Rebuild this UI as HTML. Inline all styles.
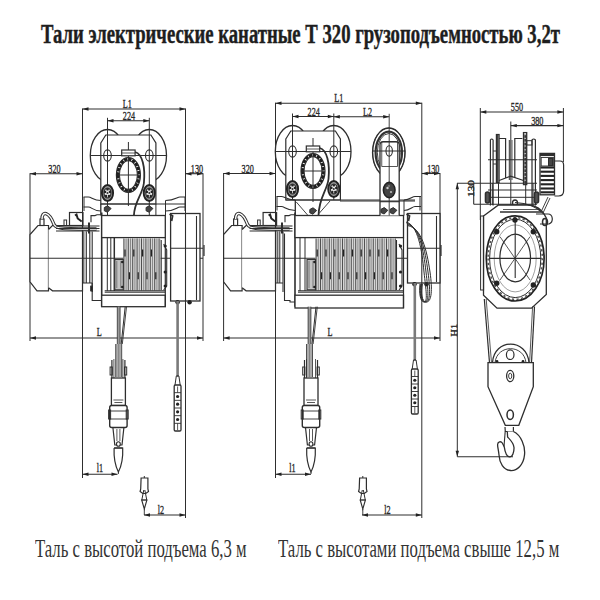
<!DOCTYPE html>
<html><head><meta charset="utf-8"><style>
html,body{margin:0;padding:0;background:#fff;width:600px;height:600px;overflow:hidden}
svg{position:absolute;left:0;top:0}
text{font-family:"Liberation Serif",serif}
.t{position:absolute;font-family:"Liberation Serif",serif;white-space:nowrap;color:#1e1e1e;transform-origin:0 0;line-height:1}
</style></head><body>
<div class="t" style="left:40.5px;top:21px;font-size:27px;font-weight:bold;-webkit-text-stroke:0.45px #1e1e1e;transform:scaleX(0.6926)">Тали электрические канатные Т 320 грузоподъемностью 3,2т</div>
<div class="t" style="left:34.5px;top:536.1px;font-size:26px;color:#333;transform:scaleX(0.6434)">Таль с высотой подъема 6,3 м</div>
<div class="t" style="left:277.5px;top:536.1px;font-size:26px;color:#333;transform:scaleX(0.6438)">Таль с высотами подъема свыше 12,5 м</div>
<svg width="600" height="600" viewBox="0 0 600 600" stroke="#2e2e2e" fill="none">
<line x1="30" y1="173.2" x2="30" y2="341" stroke-width="1"/>
<line x1="203" y1="173.2" x2="203" y2="341" stroke-width="1"/>
<line x1="82.5" y1="108.5" x2="82.5" y2="478" stroke-width="1"/>
<line x1="185.5" y1="108.5" x2="185.5" y2="518" stroke-width="1"/>
<line x1="82.5" y1="109" x2="185.5" y2="109" stroke-width="1.1"/>
<polygon points="82.5,109 88.5,107.3 88.5,110.7" stroke="none" fill="#222"/>
<polygon points="185.5,109 179.5,107.3 179.5,110.7" stroke="none" fill="#222"/>
<text transform="translate(127.2,108.2) scale(0.64,1)" font-size="12.8" text-anchor="middle" stroke="#2a2a2a" stroke-width="0.35" fill="#2a2a2a">L1</text>
<line x1="107.5" y1="120.8" x2="149.3" y2="120.8" stroke-width="1.1"/>
<polygon points="107.5,120.8 113.5,119.1 113.5,122.5" stroke="none" fill="#222"/>
<polygon points="149.3,120.8 143.3,119.1 143.3,122.5" stroke="none" fill="#222"/>
<text transform="translate(129,120) scale(0.64,1)" font-size="12.8" text-anchor="middle" stroke="#2a2a2a" stroke-width="0.35" fill="#2a2a2a">224</text>
<line x1="30" y1="173.7" x2="82.5" y2="173.7" stroke-width="1.1"/>
<polygon points="30,173.7 36,172 36,175.4" stroke="none" fill="#222"/>
<polygon points="82.5,173.7 76.5,172 76.5,175.4" stroke="none" fill="#222"/>
<text transform="translate(54.5,172.9) scale(0.64,1)" font-size="12.8" text-anchor="middle" stroke="#2a2a2a" stroke-width="0.35" fill="#2a2a2a">320</text>
<line x1="185.5" y1="173.7" x2="203" y2="173.7" stroke-width="1.1"/>
<polygon points="185.5,173.7 191.5,172 191.5,175.4" stroke="none" fill="#222"/>
<polygon points="203,173.7 197,172 197,175.4" stroke="none" fill="#222"/>
<text transform="translate(197,172.9) scale(0.64,1)" font-size="12.8" text-anchor="middle" stroke="#2a2a2a" stroke-width="0.35" fill="#2a2a2a">130</text>
<line x1="30" y1="338" x2="203" y2="338" stroke-width="1.1"/>
<polygon points="30,338 36,336.3 36,339.7" stroke="none" fill="#222"/>
<polygon points="203,338 197,336.3 197,339.7" stroke="none" fill="#222"/>
<text transform="translate(99.3,335.6) scale(0.64,1)" font-size="12.8" text-anchor="middle" stroke="#2a2a2a" stroke-width="0.35" fill="#2a2a2a">L</text>
<line x1="82.5" y1="474.2" x2="117.5" y2="474.2" stroke-width="1.1"/>
<polygon points="82.5,474.2 88.5,472.5 88.5,475.9" stroke="none" fill="#222"/>
<polygon points="117.5,474.2 111.5,472.5 111.5,475.9" stroke="none" fill="#222"/>
<text transform="translate(100,472.3) scale(0.64,1)" font-size="12.8" text-anchor="middle" stroke="#2a2a2a" stroke-width="0.35" fill="#2a2a2a">l1</text>
<line x1="144" y1="515" x2="185.5" y2="515" stroke-width="1.1"/>
<polygon points="144,515 150,513.3 150,516.7" stroke="none" fill="#222"/>
<polygon points="185.5,515 179.5,513.3 179.5,516.7" stroke="none" fill="#222"/>
<text transform="translate(161,513.5) scale(0.64,1)" font-size="12.8" text-anchor="middle" stroke="#2a2a2a" stroke-width="0.35" fill="#2a2a2a">l2</text>
<ellipse cx="107.5" cy="155.5" rx="17.2" ry="26" stroke-width="1.3" fill="#fff"/>
<ellipse cx="149.3" cy="155.5" rx="17.2" ry="26" stroke-width="1.3" fill="#fff"/>
<polygon points="100.8,143 105.8,135 150.9,135 155.9,143 155.9,204 100.8,204" stroke-width="1.2" fill="#fff"/>
<line x1="107.5" y1="117.8" x2="107.5" y2="217" stroke-width="1"/>
<line x1="149.3" y1="117.8" x2="149.3" y2="217" stroke-width="1"/>
<line x1="90.3" y1="155.5" x2="166.5" y2="155.5" stroke-width="1.1"/>
<ellipse cx="107.5" cy="155.5" rx="3.8" ry="5.6" stroke-width="1.1" fill="none"/>
<ellipse cx="149.3" cy="155.5" rx="3.8" ry="5.6" stroke-width="1.1" fill="none"/>
<ellipse cx="128.4" cy="175" rx="12" ry="17.5" stroke-width="1.2" fill="#fff"/>
<path d="M118,175 a10.4,15.8 0 1,0 20.8,0 a10.4,15.8 0 1,0 -20.8,0" stroke-width="3.0" fill="none" stroke="#1e1e1e" stroke-dasharray="3.4 0.8"/>
<ellipse cx="128.4" cy="175" rx="9" ry="14.2" stroke-width="1.1" fill="none"/>
<line x1="128.4" y1="142" x2="128.4" y2="206" stroke-width="1"/>
<line x1="117.4" y1="175" x2="139.4" y2="175" stroke-width="1"/>
<rect x="121.7" y="150" width="13.4" height="5.8" stroke-width="1.2" fill="#fff"/>
<line x1="121.7" y1="153" x2="135.1" y2="153" stroke-width="0.8"/>
<ellipse cx="107.5" cy="193" rx="5.6" ry="8" stroke-width="1.9" fill="#9a9a9a" stroke="#222"/>
<ellipse cx="107.5" cy="193" rx="3.47" ry="4.96" stroke-width="1.3" fill="#e8e8e8" stroke="#333"/>
<circle cx="107.5" cy="189.4" r="1.2" fill="#222" stroke="none"/>
<circle cx="109.9" cy="191.89" r="1.2" fill="#222" stroke="none"/>
<circle cx="108.98" cy="195.91" r="1.2" fill="#222" stroke="none"/>
<circle cx="106.02" cy="195.91" r="1.2" fill="#222" stroke="none"/>
<circle cx="105.1" cy="191.89" r="1.2" fill="#222" stroke="none"/>
<circle cx="107.5" cy="193" r="1.0" fill="#333" stroke="none"/>
<ellipse cx="149.3" cy="193" rx="5.6" ry="8" stroke-width="1.9" fill="#9a9a9a" stroke="#222"/>
<ellipse cx="149.3" cy="193" rx="3.47" ry="4.96" stroke-width="1.3" fill="#e8e8e8" stroke="#333"/>
<circle cx="149.3" cy="189.4" r="1.2" fill="#222" stroke="none"/>
<circle cx="151.7" cy="191.89" r="1.2" fill="#222" stroke="none"/>
<circle cx="150.78" cy="195.91" r="1.2" fill="#222" stroke="none"/>
<circle cx="147.82" cy="195.91" r="1.2" fill="#222" stroke="none"/>
<circle cx="146.9" cy="191.89" r="1.2" fill="#222" stroke="none"/>
<circle cx="149.3" cy="193" r="1.0" fill="#333" stroke="none"/>
<line x1="100.8" y1="204" x2="185.5" y2="204" stroke-width="1.2"/>
<line x1="100.8" y1="204" x2="100.8" y2="215.5" stroke-width="1.3"/>
<line x1="155.9" y1="204" x2="155.9" y2="215.5" stroke-width="1"/>
<path d="M104.3,207.5 L107.5,205.8 L111.1,208.5 L107.5,212.2 L104.3,210.8 Z" stroke-width="1" fill="#444"/>
<path d="M146.1,207.5 L149.3,205.8 L152.9,208.5 L149.3,212.2 L146.1,210.8 Z" stroke-width="1" fill="#444"/>
<path d="M135.1,152 C142.4,154 145.4,167 143.9,183 C142.4,195 134.4,201 133.9,215.5" stroke-width="1.8" fill="none"/>
<path d="M83.5,197 L88.5,197 C91.5,197 93.5,200.5 100.8,200.5" stroke-width="1.1" fill="none"/>
<path d="M83.5,207 L88.5,207 C91.5,207 93.5,211 100.8,211" stroke-width="1.1" fill="none"/>
<line x1="84" y1="197" x2="84" y2="211" stroke-width="1"/>
<path d="M186,197 L180,197 C177,197 175,200.5 165.5,200.5" stroke-width="1.1" fill="none"/>
<path d="M186,207 L180,207 C177,207 175,211 165.5,211" stroke-width="1.1" fill="none"/>
<line x1="185" y1="197" x2="185" y2="211" stroke-width="1"/>
<line x1="165.5" y1="200.5" x2="165.5" y2="215.5" stroke-width="1"/>
<path d="M91,222.3 L91,215.6 L95,215.6 L97,214.8 L100.8,214.8" stroke-width="1.1" fill="none"/>
<polygon points="38,225.5 48.5,225.5 48.5,290.8 37,290.8 30,281.8 30,234.5" stroke-width="1.2" fill="#fff"/>
<path d="M48.5,229.5 L52.5,225.5 L82.5,225.5 L82.5,290.8 L52.5,290.8 L48.5,287.8" stroke-width="1.2" fill="#fff"/>
<rect x="40" y="219" width="4" height="6.5" stroke-width="1.2" fill="none"/>
<path d="M42,219 C42,210.5 49,211.5 54,224.5 C56,228.5 60,229 96.5,229" stroke-width="3.4" fill="none" stroke="#333"/>
<path d="M42,219 C42,210.5 49,211.5 54,224.5 C56,228.5 60,229 96.5,229" stroke-width="1.4" fill="none" stroke="#fff"/>
<rect x="64" y="220" width="2.6" height="5.5" stroke-width="1" fill="none"/>
<rect x="69.5" y="212.5" width="13.5" height="13" stroke-width="1.2" fill="none"/>
<path d="M75,215.5 l1.5,-1 l1.2,4 l4,3" stroke-width="2" fill="none" stroke="#222"/>
<line x1="56" y1="226" x2="99.5" y2="226" stroke-width="1.1"/>
<line x1="56" y1="228.5" x2="99.5" y2="228.5" stroke-width="1.1"/>
<line x1="56" y1="231" x2="99.5" y2="231" stroke-width="1.1"/>
<line x1="89" y1="222.5" x2="89" y2="233.5" stroke-width="2"/>
<line x1="83.2" y1="231.5" x2="83.2" y2="283" stroke-width="1.1"/>
<line x1="86.3" y1="231.5" x2="86.3" y2="283" stroke-width="1.1"/>
<line x1="89.8" y1="231.5" x2="89.8" y2="283" stroke-width="1.1"/>
<line x1="92.2" y1="231.5" x2="92.2" y2="292" stroke-width="1.1"/>
<rect x="83.8" y="231.5" width="1.9" height="51.5" fill="#bbb" stroke="none"/>
<line x1="82.5" y1="283" x2="92.2" y2="283" stroke-width="1"/>
<path d="M92.2,283 L92.2,300.5 L101.7,300.5" stroke-width="1.1" fill="none"/>
<rect x="90.6" y="286" width="1.8" height="5" stroke-width="0.8" fill="#222"/>
<line x1="101.7" y1="212.5" x2="101.7" y2="306.7" stroke-width="1.6"/>
<line x1="30" y1="258.3" x2="203" y2="258.3" stroke-width="1.1"/>
<rect x="101.7" y="215.5" width="63.6" height="22.1" stroke-width="1.3" fill="#fff"/>
<rect x="123.3" y="238.4" width="37.4" height="52" fill="#d6d6d6" stroke="none"/>
<line x1="123.9" y1="238.4" x2="123.9" y2="290.4" stroke-width="1.0" stroke="#505050"/>
<line x1="126.1" y1="238.4" x2="126.1" y2="290.4" stroke-width="1.0" stroke="#8a8a8a"/>
<line x1="128.3" y1="238.4" x2="128.3" y2="290.4" stroke-width="1.0" stroke="#505050"/>
<line x1="130.5" y1="238.4" x2="130.5" y2="290.4" stroke-width="1.0" stroke="#8a8a8a"/>
<line x1="132.7" y1="238.4" x2="132.7" y2="290.4" stroke-width="1.0" stroke="#505050"/>
<line x1="134.9" y1="238.4" x2="134.9" y2="290.4" stroke-width="1.0" stroke="#8a8a8a"/>
<line x1="137.1" y1="238.4" x2="137.1" y2="290.4" stroke-width="1.0" stroke="#505050"/>
<line x1="139.3" y1="238.4" x2="139.3" y2="290.4" stroke-width="1.0" stroke="#8a8a8a"/>
<line x1="141.5" y1="238.4" x2="141.5" y2="290.4" stroke-width="1.0" stroke="#505050"/>
<line x1="143.7" y1="238.4" x2="143.7" y2="290.4" stroke-width="1.0" stroke="#8a8a8a"/>
<line x1="145.9" y1="238.4" x2="145.9" y2="290.4" stroke-width="1.0" stroke="#505050"/>
<line x1="148.1" y1="238.4" x2="148.1" y2="290.4" stroke-width="1.0" stroke="#8a8a8a"/>
<line x1="150.3" y1="238.4" x2="150.3" y2="290.4" stroke-width="1.0" stroke="#505050"/>
<line x1="152.5" y1="238.4" x2="152.5" y2="290.4" stroke-width="1.0" stroke="#8a8a8a"/>
<line x1="154.7" y1="238.4" x2="154.7" y2="290.4" stroke-width="1.0" stroke="#505050"/>
<line x1="156.9" y1="238.4" x2="156.9" y2="290.4" stroke-width="1.0" stroke="#8a8a8a"/>
<line x1="159.1" y1="238.4" x2="159.1" y2="290.4" stroke-width="1.0" stroke="#505050"/>
<line x1="125" y1="249.46" x2="125" y2="256.46" stroke-width="1.2" stroke="#222"/>
<line x1="129.4" y1="272.34" x2="129.4" y2="279.34" stroke-width="1.2" stroke="#222"/>
<line x1="133.8" y1="249.46" x2="133.8" y2="256.46" stroke-width="1.2" stroke="#222"/>
<line x1="138.2" y1="272.34" x2="138.2" y2="279.34" stroke-width="1.2" stroke="#222"/>
<line x1="142.6" y1="249.46" x2="142.6" y2="256.46" stroke-width="1.2" stroke="#222"/>
<line x1="147" y1="272.34" x2="147" y2="279.34" stroke-width="1.2" stroke="#222"/>
<line x1="151.4" y1="249.46" x2="151.4" y2="256.46" stroke-width="1.2" stroke="#222"/>
<line x1="155.8" y1="272.34" x2="155.8" y2="279.34" stroke-width="1.2" stroke="#222"/>
<line x1="107.3" y1="237.6" x2="107.3" y2="291" stroke-width="1.0"/>
<line x1="110.8" y1="237.6" x2="110.8" y2="291" stroke-width="1.0"/>
<line x1="114.3" y1="237.6" x2="114.3" y2="291" stroke-width="1.5"/>
<rect x="114.8" y="259.5" width="8.5" height="30.3" fill="#c4c4c4" stroke="#333" stroke-width="1.1"/>
<line x1="116.8" y1="261" x2="116.8" y2="288" stroke-width="0.8" stroke="#666"/>
<line x1="120.8" y1="261" x2="120.8" y2="288" stroke-width="0.8" stroke="#666"/>
<circle cx="122.3" cy="262" r="1.3" fill="#222" stroke="none"/>
<circle cx="122.3" cy="287" r="1.3" fill="#222" stroke="none"/>
<line x1="104.7" y1="290.8" x2="165.3" y2="290.8" stroke-width="1.2"/>
<line x1="104.7" y1="292.4" x2="165.3" y2="292.4" stroke-width="0.8"/>
<rect x="101.7" y="295.2" width="63.6" height="11.5" stroke-width="1.3" fill="#fff"/>
<line x1="165.3" y1="237.6" x2="165.3" y2="306.7" stroke-width="1.2"/>
<line x1="161.2" y1="240" x2="161.2" y2="290" stroke-width="1.1"/>
<path d="M163.7,244 L166.7,250 L166.7,286 L163.7,290" stroke-width="1.1" fill="none"/>
<circle cx="165.2" cy="246" r="1.6" fill="#222" stroke="none"/>
<circle cx="165.2" cy="272" r="1.6" fill="#222" stroke="none"/>
<circle cx="165.2" cy="286" r="1.6" fill="#222" stroke="none"/>
<rect x="170.6" y="213.5" width="29.4" height="87.5" stroke-width="1.3" fill="#fff"/>
<line x1="170.6" y1="248.3" x2="203" y2="248.3" stroke-width="1.1"/>
<line x1="185.5" y1="213.5" x2="185.5" y2="301" stroke-width="1.1"/>
<line x1="196.5" y1="216" x2="196.5" y2="300" stroke-width="1.1"/>
<line x1="204" y1="245" x2="204" y2="256" stroke-width="1.2"/>
<path d="M169.6,214 L172.6,216 L171.6,221" stroke-width="1.8" fill="none"/>
<circle cx="177.6" cy="302.2" r="2.2" fill="#222" stroke="none"/>
<circle cx="189.6" cy="302.2" r="2.2" fill="#222" stroke="none"/>
<rect x="117.3" y="306.7" width="2.8" height="38" fill="#999" stroke="none"/>
<rect x="115.7" y="344" width="6" height="33" fill="#aaa" stroke="none"/>
<line x1="117.3" y1="306.7" x2="117.3" y2="344" stroke-width="0.8"/>
<line x1="120.1" y1="306.7" x2="120.1" y2="344" stroke-width="0.8"/>
<line x1="115.7" y1="344" x2="115.7" y2="377" stroke-width="0.8"/>
<line x1="121.7" y1="344" x2="121.7" y2="377" stroke-width="0.8"/>
<line x1="118.7" y1="344" x2="118.7" y2="377" stroke-width="0.6" stroke="#666"/>
<line x1="125.2" y1="306.7" x2="121.2" y2="344" stroke-width="1.0"/>
<line x1="126.5" y1="306.7" x2="122.3" y2="344" stroke-width="0.9"/>
<line x1="111.9" y1="360" x2="111.9" y2="378" stroke-width="1.2"/>
<line x1="124.9" y1="360" x2="124.9" y2="378" stroke-width="1.2"/>
<line x1="113.9" y1="359" x2="113.9" y2="378" stroke-width="0.8"/>
<line x1="122.9" y1="359" x2="122.9" y2="378" stroke-width="0.8"/>
<rect x="110.1" y="367" width="2.2" height="8" stroke-width="1" fill="none"/>
<rect x="124.5" y="367" width="2.2" height="8" stroke-width="1" fill="none"/>
<rect x="111.4" y="378" width="14" height="27.5" stroke-width="1.3" fill="#fff"/>
<line x1="113.4" y1="400" x2="123.4" y2="400" stroke-width="0.8"/>
<line x1="114.4" y1="402.5" x2="122.4" y2="402.5" stroke-width="0.8"/>
<rect x="109.7" y="405.5" width="17.4" height="22" stroke-width="1.4" fill="#fff" rx="2"/>
<rect x="108.6" y="410" width="2" height="9" stroke-width="1" fill="none"/>
<rect x="126.2" y="410" width="2" height="9" stroke-width="1" fill="none"/>
<line x1="109.7" y1="411" x2="127.1" y2="411" stroke-width="0.9"/>
<line x1="109.7" y1="419" x2="127.1" y2="419" stroke-width="0.9"/>
<path d="M112.9,427.5 L114.8,445 L122,445 L123.9,427.5" stroke-width="1.2" fill="none"/>
<line x1="116.9" y1="429" x2="116.9" y2="441" stroke-width="0.8"/>
<line x1="119.9" y1="429" x2="119.9" y2="441" stroke-width="0.8"/>
<ellipse cx="118.4" cy="444" rx="1.9" ry="2.3" stroke-width="1.1" fill="#fff"/>
<path d="M114.1,448 L122.7,448 C123.1,457 122,465 118.4,472 C114.8,465 113.7,457 114.1,448" stroke-width="1.2" fill="none"/>
<line x1="114.1" y1="448" x2="122.7" y2="448" stroke-width="1.3"/>
<line x1="118.4" y1="472" x2="118.4" y2="474" stroke-width="0.9"/>
<line x1="177.6" y1="301" x2="177.6" y2="376" stroke-width="2.6" stroke="#7a7a7a"/>
<path d="M176.3,376 L175,385 M178.9,376 L180.2,385" stroke-width="1" fill="none"/>
<line x1="176.4" y1="376" x2="178.8" y2="376" stroke-width="1.5"/>
<rect x="174.2" y="385" width="6.8" height="46" stroke-width="1.3" fill="#fff" rx="1.2"/>
<line x1="174.2" y1="392.67" x2="181" y2="392.67" stroke-width="0.9"/>
<line x1="177.6" y1="386.5" x2="177.6" y2="392.67" stroke-width="0.8"/>
<circle cx="177.6" cy="396.5" r="1.6" fill="#222" stroke="none"/>
<line x1="174.2" y1="400.33" x2="181" y2="400.33" stroke-width="0.9"/>
<circle cx="177.6" cy="404.17" r="1.6" fill="#222" stroke="none"/>
<line x1="174.2" y1="408" x2="181" y2="408" stroke-width="0.9"/>
<circle cx="177.6" cy="411.83" r="1.6" fill="#222" stroke="none"/>
<line x1="174.2" y1="415.67" x2="181" y2="415.67" stroke-width="0.9"/>
<circle cx="177.6" cy="419.5" r="1.6" fill="#222" stroke="none"/>
<line x1="174.2" y1="423.33" x2="181" y2="423.33" stroke-width="0.9"/>
<line x1="177.6" y1="423.33" x2="177.6" y2="430" stroke-width="0.8"/>
<path d="M141.1,478 L147.9,478 L147.9,489 L148.5,491.5 L145.8,493.5 L142.8,493.5 L140.1,491.5 L140.7,489 Z" stroke-width="1.2" fill="none"/>
<path d="M143.8,490 L141.8,500 M144.8,490 L146.8,500" stroke-width="1" fill="none"/>
<line x1="141.3" y1="500" x2="147.3" y2="500" stroke-width="1.4"/>
<path d="M141.7,500 L144.3,509 L146.9,500" stroke-width="1.1" fill="none"/>
<line x1="144.3" y1="509" x2="144.3" y2="515" stroke-width="0.9"/>
<line x1="144.3" y1="476" x2="144.3" y2="478" stroke-width="1"/>
<line x1="223.6" y1="173" x2="223.6" y2="341" stroke-width="1"/>
<line x1="440" y1="173" x2="440" y2="341" stroke-width="1"/>
<line x1="275.5" y1="102.7" x2="275.5" y2="478" stroke-width="1"/>
<line x1="421.8" y1="102.7" x2="421.8" y2="518" stroke-width="1"/>
<line x1="275.5" y1="103.2" x2="421.8" y2="103.2" stroke-width="1.1"/>
<polygon points="275.5,103.2 281.5,101.5 281.5,104.9" stroke="none" fill="#222"/>
<polygon points="421.8,103.2 415.8,101.5 415.8,104.9" stroke="none" fill="#222"/>
<text transform="translate(338.8,102.4) scale(0.64,1)" font-size="12.8" text-anchor="middle" stroke="#2a2a2a" stroke-width="0.35" fill="#2a2a2a">L1</text>
<line x1="292.5" y1="116.5" x2="333.8" y2="116.5" stroke-width="1.1"/>
<polygon points="292.5,116.5 298.5,114.8 298.5,118.2" stroke="none" fill="#222"/>
<polygon points="333.8,116.5 327.8,114.8 327.8,118.2" stroke="none" fill="#222"/>
<text transform="translate(313.7,115.7) scale(0.64,1)" font-size="12.8" text-anchor="middle" stroke="#2a2a2a" stroke-width="0.35" fill="#2a2a2a">224</text>
<line x1="223.6" y1="173.5" x2="275.5" y2="173.5" stroke-width="1.1"/>
<polygon points="223.6,173.5 229.6,171.8 229.6,175.2" stroke="none" fill="#222"/>
<polygon points="275.5,173.5 269.5,171.8 269.5,175.2" stroke="none" fill="#222"/>
<text transform="translate(247.7,172.7) scale(0.64,1)" font-size="12.8" text-anchor="middle" stroke="#2a2a2a" stroke-width="0.35" fill="#2a2a2a">320</text>
<line x1="421.8" y1="173.5" x2="440" y2="173.5" stroke-width="1.1"/>
<polygon points="421.8,173.5 427.8,171.8 427.8,175.2" stroke="none" fill="#222"/>
<polygon points="440,173.5 434,171.8 434,175.2" stroke="none" fill="#222"/>
<text transform="translate(433.3,172.7) scale(0.64,1)" font-size="12.8" text-anchor="middle" stroke="#2a2a2a" stroke-width="0.35" fill="#2a2a2a">130</text>
<line x1="223.6" y1="338" x2="440" y2="338" stroke-width="1.1"/>
<polygon points="223.6,338 229.6,336.3 229.6,339.7" stroke="none" fill="#222"/>
<polygon points="440,338 434,336.3 434,339.7" stroke="none" fill="#222"/>
<text transform="translate(330,335.6) scale(0.64,1)" font-size="12.8" text-anchor="middle" stroke="#2a2a2a" stroke-width="0.35" fill="#2a2a2a">L</text>
<line x1="275.5" y1="474.2" x2="311" y2="474.2" stroke-width="1.1"/>
<polygon points="275.5,474.2 281.5,472.5 281.5,475.9" stroke="none" fill="#222"/>
<polygon points="311,474.2 305,472.5 305,475.9" stroke="none" fill="#222"/>
<text transform="translate(292.4,472.3) scale(0.64,1)" font-size="12.8" text-anchor="middle" stroke="#2a2a2a" stroke-width="0.35" fill="#2a2a2a">l1</text>
<line x1="362" y1="515" x2="421.8" y2="515" stroke-width="1.1"/>
<polygon points="362,515 368,513.3 368,516.7" stroke="none" fill="#222"/>
<polygon points="421.8,515 415.8,513.3 415.8,516.7" stroke="none" fill="#222"/>
<text transform="translate(387.5,513.5) scale(0.64,1)" font-size="12.8" text-anchor="middle" stroke="#2a2a2a" stroke-width="0.35" fill="#2a2a2a">l2</text>
<ellipse cx="292.5" cy="151.5" rx="17.2" ry="26" stroke-width="1.3" fill="#fff"/>
<ellipse cx="333.8" cy="151.5" rx="17.2" ry="26" stroke-width="1.3" fill="#fff"/>
<polygon points="285.8,139 290.8,131 335.4,131 340.4,139 340.4,200 285.8,200" stroke-width="1.2" fill="#fff"/>
<line x1="292.5" y1="113.5" x2="292.5" y2="200" stroke-width="1"/>
<line x1="333.8" y1="113.5" x2="333.8" y2="200" stroke-width="1"/>
<line x1="275.3" y1="151.5" x2="351" y2="151.5" stroke-width="1.1"/>
<ellipse cx="292.5" cy="151.5" rx="3.8" ry="5.6" stroke-width="1.1" fill="none"/>
<ellipse cx="333.8" cy="151.5" rx="3.8" ry="5.6" stroke-width="1.1" fill="none"/>
<ellipse cx="313" cy="171" rx="12" ry="17.5" stroke-width="1.2" fill="#fff"/>
<path d="M302.6,171 a10.4,15.8 0 1,0 20.8,0 a10.4,15.8 0 1,0 -20.8,0" stroke-width="3.0" fill="none" stroke="#1e1e1e" stroke-dasharray="3.4 0.8"/>
<ellipse cx="313" cy="171" rx="9" ry="14.2" stroke-width="1.1" fill="none"/>
<line x1="313" y1="138" x2="313" y2="202" stroke-width="1"/>
<line x1="302" y1="171" x2="324" y2="171" stroke-width="1"/>
<rect x="306.3" y="146" width="13.4" height="5.8" stroke-width="1.2" fill="#fff"/>
<line x1="306.3" y1="149" x2="319.7" y2="149" stroke-width="0.8"/>
<ellipse cx="292.5" cy="189" rx="5.6" ry="8" stroke-width="1.9" fill="#9a9a9a" stroke="#222"/>
<ellipse cx="292.5" cy="189" rx="3.47" ry="4.96" stroke-width="1.3" fill="#e8e8e8" stroke="#333"/>
<circle cx="292.5" cy="185.4" r="1.2" fill="#222" stroke="none"/>
<circle cx="294.9" cy="187.89" r="1.2" fill="#222" stroke="none"/>
<circle cx="293.98" cy="191.91" r="1.2" fill="#222" stroke="none"/>
<circle cx="291.02" cy="191.91" r="1.2" fill="#222" stroke="none"/>
<circle cx="290.1" cy="187.89" r="1.2" fill="#222" stroke="none"/>
<circle cx="292.5" cy="189" r="1.0" fill="#333" stroke="none"/>
<ellipse cx="333.8" cy="189" rx="5.6" ry="8" stroke-width="1.9" fill="#9a9a9a" stroke="#222"/>
<ellipse cx="333.8" cy="189" rx="3.47" ry="4.96" stroke-width="1.3" fill="#e8e8e8" stroke="#333"/>
<circle cx="333.8" cy="185.4" r="1.2" fill="#222" stroke="none"/>
<circle cx="336.2" cy="187.89" r="1.2" fill="#222" stroke="none"/>
<circle cx="335.28" cy="191.91" r="1.2" fill="#222" stroke="none"/>
<circle cx="332.32" cy="191.91" r="1.2" fill="#222" stroke="none"/>
<circle cx="331.4" cy="187.89" r="1.2" fill="#222" stroke="none"/>
<circle cx="333.8" cy="189" r="1.0" fill="#333" stroke="none"/>
<line x1="285.8" y1="200" x2="415" y2="200" stroke-width="1.2"/>
<line x1="295.3" y1="200" x2="295.3" y2="215.5" stroke-width="1.3"/>
<path d="M296.3,202 L308,215.5 M330,201 L319,213.5" stroke-width="0.9" fill="none"/>
<path d="M309.8,209.5 L313,207.8 L316.6,210.5 L313,214.2 L309.8,212.8 Z" stroke-width="1" fill="#444"/>
<path d="M319.7,148 C327,150 330,163 328.5,179 C327,191 319,197 318.5,215.5" stroke-width="1.8" fill="none"/>
<path d="M276.5,196.5 L281.5,196.5 C284.5,196.5 286.5,200 295.3,200" stroke-width="1.1" fill="none"/>
<path d="M276.5,206.5 L281.5,206.5 C284.5,206.5 286.5,210.5 295.3,210.5" stroke-width="1.1" fill="none"/>
<line x1="277" y1="196.5" x2="277" y2="210.5" stroke-width="1"/>
<path d="M421,196.5 L415,196.5 C412,196.5 410,200 404,200" stroke-width="1.1" fill="none"/>
<path d="M421,206.5 L415,206.5 C412,206.5 410,210.5 404,210.5" stroke-width="1.1" fill="none"/>
<line x1="420" y1="196.5" x2="420" y2="210.5" stroke-width="1"/>
<line x1="404" y1="200" x2="404" y2="215.5" stroke-width="1"/>
<path d="M285,222.3 L285,215.6 L289,215.6 L291,214.8 L295.3,214.8" stroke-width="1.1" fill="none"/>
<polygon points="231.6,225.5 242.1,225.5 242.1,290.8 230.6,290.8 223.6,281.8 223.6,234.5" stroke-width="1.2" fill="#fff"/>
<path d="M242.1,229.5 L246.1,225.5 L275.5,225.5 L275.5,290.8 L246.1,290.8 L242.1,287.8" stroke-width="1.2" fill="#fff"/>
<rect x="233.6" y="219" width="4" height="6.5" stroke-width="1.2" fill="none"/>
<path d="M235.6,219 C235.6,210.5 242.6,211.5 247.6,224.5 C249.6,228.5 253.6,229 289.5,229" stroke-width="3.4" fill="none" stroke="#333"/>
<path d="M235.6,219 C235.6,210.5 242.6,211.5 247.6,224.5 C249.6,228.5 253.6,229 289.5,229" stroke-width="1.4" fill="none" stroke="#fff"/>
<rect x="257.6" y="220" width="2.6" height="5.5" stroke-width="1" fill="none"/>
<rect x="263.1" y="212.5" width="13.5" height="13" stroke-width="1.2" fill="none"/>
<path d="M268.6,215.5 l1.5,-1 l1.2,4 l4,3" stroke-width="2" fill="none" stroke="#222"/>
<line x1="249.6" y1="226" x2="292.5" y2="226" stroke-width="1.1"/>
<line x1="249.6" y1="228.5" x2="292.5" y2="228.5" stroke-width="1.1"/>
<line x1="249.6" y1="231" x2="292.5" y2="231" stroke-width="1.1"/>
<line x1="282" y1="222.5" x2="282" y2="233.5" stroke-width="2"/>
<line x1="277.25" y1="231.5" x2="277.25" y2="283" stroke-width="1.1"/>
<line x1="279.75" y1="231.5" x2="279.75" y2="283" stroke-width="1.1"/>
<line x1="283" y1="231.5" x2="283" y2="292" stroke-width="1.1"/>
<rect x="277.85" y="231.5" width="1.3" height="51.5" fill="#bbb" stroke="none"/>
<line x1="275.5" y1="283" x2="283" y2="283" stroke-width="1"/>
<path d="M284.5,233.5 L284.5,300.5 L290,300.5 L290,302 L295,302" stroke-width="1.1" fill="none"/>
<line x1="295" y1="212.5" x2="295" y2="306.7" stroke-width="1.6"/>
<line x1="223.6" y1="258.3" x2="440" y2="258.3" stroke-width="1.1"/>
<rect x="295" y="215.5" width="108.5" height="22.1" stroke-width="1.3" fill="#fff"/>
<rect x="315.5" y="238.4" width="80.5" height="52" fill="#d6d6d6" stroke="none"/>
<line x1="316.1" y1="238.4" x2="316.1" y2="290.4" stroke-width="1.0" stroke="#505050"/>
<line x1="318.3" y1="238.4" x2="318.3" y2="290.4" stroke-width="1.0" stroke="#8a8a8a"/>
<line x1="320.5" y1="238.4" x2="320.5" y2="290.4" stroke-width="1.0" stroke="#505050"/>
<line x1="322.7" y1="238.4" x2="322.7" y2="290.4" stroke-width="1.0" stroke="#8a8a8a"/>
<line x1="324.9" y1="238.4" x2="324.9" y2="290.4" stroke-width="1.0" stroke="#505050"/>
<line x1="327.1" y1="238.4" x2="327.1" y2="290.4" stroke-width="1.0" stroke="#8a8a8a"/>
<line x1="329.3" y1="238.4" x2="329.3" y2="290.4" stroke-width="1.0" stroke="#505050"/>
<line x1="331.5" y1="238.4" x2="331.5" y2="290.4" stroke-width="1.0" stroke="#8a8a8a"/>
<line x1="333.7" y1="238.4" x2="333.7" y2="290.4" stroke-width="1.0" stroke="#505050"/>
<line x1="335.9" y1="238.4" x2="335.9" y2="290.4" stroke-width="1.0" stroke="#8a8a8a"/>
<line x1="338.1" y1="238.4" x2="338.1" y2="290.4" stroke-width="1.0" stroke="#505050"/>
<line x1="340.3" y1="238.4" x2="340.3" y2="290.4" stroke-width="1.0" stroke="#8a8a8a"/>
<line x1="342.5" y1="238.4" x2="342.5" y2="290.4" stroke-width="1.0" stroke="#505050"/>
<line x1="344.7" y1="238.4" x2="344.7" y2="290.4" stroke-width="1.0" stroke="#8a8a8a"/>
<line x1="346.9" y1="238.4" x2="346.9" y2="290.4" stroke-width="1.0" stroke="#505050"/>
<line x1="349.1" y1="238.4" x2="349.1" y2="290.4" stroke-width="1.0" stroke="#8a8a8a"/>
<line x1="351.3" y1="238.4" x2="351.3" y2="290.4" stroke-width="1.0" stroke="#505050"/>
<line x1="353.5" y1="238.4" x2="353.5" y2="290.4" stroke-width="1.0" stroke="#8a8a8a"/>
<line x1="355.7" y1="238.4" x2="355.7" y2="290.4" stroke-width="1.0" stroke="#505050"/>
<line x1="357.9" y1="238.4" x2="357.9" y2="290.4" stroke-width="1.0" stroke="#8a8a8a"/>
<line x1="360.1" y1="238.4" x2="360.1" y2="290.4" stroke-width="1.0" stroke="#505050"/>
<line x1="362.3" y1="238.4" x2="362.3" y2="290.4" stroke-width="1.0" stroke="#8a8a8a"/>
<line x1="364.5" y1="238.4" x2="364.5" y2="290.4" stroke-width="1.0" stroke="#505050"/>
<line x1="366.7" y1="238.4" x2="366.7" y2="290.4" stroke-width="1.0" stroke="#8a8a8a"/>
<line x1="368.9" y1="238.4" x2="368.9" y2="290.4" stroke-width="1.0" stroke="#505050"/>
<line x1="371.1" y1="238.4" x2="371.1" y2="290.4" stroke-width="1.0" stroke="#8a8a8a"/>
<line x1="373.3" y1="238.4" x2="373.3" y2="290.4" stroke-width="1.0" stroke="#505050"/>
<line x1="375.5" y1="238.4" x2="375.5" y2="290.4" stroke-width="1.0" stroke="#8a8a8a"/>
<line x1="377.7" y1="238.4" x2="377.7" y2="290.4" stroke-width="1.0" stroke="#505050"/>
<line x1="379.9" y1="238.4" x2="379.9" y2="290.4" stroke-width="1.0" stroke="#8a8a8a"/>
<line x1="382.1" y1="238.4" x2="382.1" y2="290.4" stroke-width="1.0" stroke="#505050"/>
<line x1="384.3" y1="238.4" x2="384.3" y2="290.4" stroke-width="1.0" stroke="#8a8a8a"/>
<line x1="386.5" y1="238.4" x2="386.5" y2="290.4" stroke-width="1.0" stroke="#505050"/>
<line x1="388.7" y1="238.4" x2="388.7" y2="290.4" stroke-width="1.0" stroke="#8a8a8a"/>
<line x1="390.9" y1="238.4" x2="390.9" y2="290.4" stroke-width="1.0" stroke="#505050"/>
<line x1="393.1" y1="238.4" x2="393.1" y2="290.4" stroke-width="1.0" stroke="#8a8a8a"/>
<line x1="395.3" y1="238.4" x2="395.3" y2="290.4" stroke-width="1.0" stroke="#505050"/>
<line x1="317.2" y1="249.46" x2="317.2" y2="256.46" stroke-width="1.2" stroke="#222"/>
<line x1="321.6" y1="272.34" x2="321.6" y2="279.34" stroke-width="1.2" stroke="#222"/>
<line x1="326" y1="249.46" x2="326" y2="256.46" stroke-width="1.2" stroke="#222"/>
<line x1="330.4" y1="272.34" x2="330.4" y2="279.34" stroke-width="1.2" stroke="#222"/>
<line x1="334.8" y1="249.46" x2="334.8" y2="256.46" stroke-width="1.2" stroke="#222"/>
<line x1="339.2" y1="272.34" x2="339.2" y2="279.34" stroke-width="1.2" stroke="#222"/>
<line x1="343.6" y1="249.46" x2="343.6" y2="256.46" stroke-width="1.2" stroke="#222"/>
<line x1="348" y1="272.34" x2="348" y2="279.34" stroke-width="1.2" stroke="#222"/>
<line x1="352.4" y1="249.46" x2="352.4" y2="256.46" stroke-width="1.2" stroke="#222"/>
<line x1="356.8" y1="272.34" x2="356.8" y2="279.34" stroke-width="1.2" stroke="#222"/>
<line x1="361.2" y1="249.46" x2="361.2" y2="256.46" stroke-width="1.2" stroke="#222"/>
<line x1="365.6" y1="272.34" x2="365.6" y2="279.34" stroke-width="1.2" stroke="#222"/>
<line x1="370" y1="249.46" x2="370" y2="256.46" stroke-width="1.2" stroke="#222"/>
<line x1="374.4" y1="272.34" x2="374.4" y2="279.34" stroke-width="1.2" stroke="#222"/>
<line x1="378.8" y1="249.46" x2="378.8" y2="256.46" stroke-width="1.2" stroke="#222"/>
<line x1="383.2" y1="272.34" x2="383.2" y2="279.34" stroke-width="1.2" stroke="#222"/>
<line x1="387.6" y1="249.46" x2="387.6" y2="256.46" stroke-width="1.2" stroke="#222"/>
<line x1="392" y1="272.34" x2="392" y2="279.34" stroke-width="1.2" stroke="#222"/>
<line x1="300" y1="237.6" x2="300" y2="291" stroke-width="1.0"/>
<line x1="305" y1="237.6" x2="305" y2="291" stroke-width="1.0"/>
<rect x="307" y="259.5" width="8.5" height="30.3" fill="#c4c4c4" stroke="#333" stroke-width="1.1"/>
<line x1="309" y1="261" x2="309" y2="288" stroke-width="0.8" stroke="#666"/>
<line x1="313" y1="261" x2="313" y2="288" stroke-width="0.8" stroke="#666"/>
<circle cx="314.5" cy="262" r="1.3" fill="#222" stroke="none"/>
<circle cx="314.5" cy="287" r="1.3" fill="#222" stroke="none"/>
<line x1="298" y1="290.8" x2="403.5" y2="290.8" stroke-width="1.2"/>
<line x1="298" y1="292.4" x2="403.5" y2="292.4" stroke-width="0.8"/>
<rect x="295" y="295.2" width="108.5" height="12.8" stroke-width="1.3" fill="#fff"/>
<line x1="403.5" y1="237.6" x2="403.5" y2="308" stroke-width="1.2"/>
<line x1="396.5" y1="240" x2="396.5" y2="290" stroke-width="1.1"/>
<path d="M399,244 L402,250 L402,286 L399,290" stroke-width="1.1" fill="none"/>
<circle cx="400.5" cy="246" r="1.6" fill="#222" stroke="none"/>
<circle cx="400.5" cy="272" r="1.6" fill="#222" stroke="none"/>
<circle cx="400.5" cy="286" r="1.6" fill="#222" stroke="none"/>
<rect x="407.5" y="213.5" width="32.5" height="69.5" stroke-width="1.3" fill="#fff"/>
<line x1="407.5" y1="248.3" x2="440" y2="248.3" stroke-width="1.1"/>
<line x1="421.8" y1="213.5" x2="421.8" y2="283" stroke-width="1.1"/>
<line x1="436.5" y1="216" x2="436.5" y2="282" stroke-width="1.1"/>
<line x1="441" y1="245" x2="441" y2="256" stroke-width="1.2"/>
<path d="M406.5,214 L409.5,216 L408.5,221" stroke-width="1.8" fill="none"/>
<circle cx="414.5" cy="284.2" r="2.2" fill="#222" stroke="none"/>
<circle cx="426.5" cy="284.2" r="2.2" fill="#222" stroke="none"/>
<rect x="308.1" y="306.7" width="2.8" height="38" fill="#999" stroke="none"/>
<rect x="306.5" y="344" width="6" height="33" fill="#aaa" stroke="none"/>
<line x1="308.1" y1="306.7" x2="308.1" y2="344" stroke-width="0.8"/>
<line x1="310.9" y1="306.7" x2="310.9" y2="344" stroke-width="0.8"/>
<line x1="306.5" y1="344" x2="306.5" y2="377" stroke-width="0.8"/>
<line x1="312.5" y1="344" x2="312.5" y2="377" stroke-width="0.8"/>
<line x1="309.5" y1="344" x2="309.5" y2="377" stroke-width="0.6" stroke="#666"/>
<line x1="316" y1="306.7" x2="312" y2="344" stroke-width="1.0"/>
<line x1="317.3" y1="306.7" x2="313.1" y2="344" stroke-width="0.9"/>
<line x1="304.5" y1="360" x2="304.5" y2="378" stroke-width="1.2"/>
<line x1="317.5" y1="360" x2="317.5" y2="378" stroke-width="1.2"/>
<line x1="306.5" y1="359" x2="306.5" y2="378" stroke-width="0.8"/>
<line x1="315.5" y1="359" x2="315.5" y2="378" stroke-width="0.8"/>
<rect x="302.7" y="367" width="2.2" height="8" stroke-width="1" fill="none"/>
<rect x="317.1" y="367" width="2.2" height="8" stroke-width="1" fill="none"/>
<rect x="304" y="378" width="14" height="27.5" stroke-width="1.3" fill="#fff"/>
<line x1="306" y1="400" x2="316" y2="400" stroke-width="0.8"/>
<line x1="307" y1="402.5" x2="315" y2="402.5" stroke-width="0.8"/>
<rect x="302.3" y="405.5" width="17.4" height="22" stroke-width="1.4" fill="#fff" rx="2"/>
<rect x="301.2" y="410" width="2" height="9" stroke-width="1" fill="none"/>
<rect x="318.8" y="410" width="2" height="9" stroke-width="1" fill="none"/>
<line x1="302.3" y1="411" x2="319.7" y2="411" stroke-width="0.9"/>
<line x1="302.3" y1="419" x2="319.7" y2="419" stroke-width="0.9"/>
<path d="M305.5,427.5 L307.4,445 L314.6,445 L316.5,427.5" stroke-width="1.2" fill="none"/>
<line x1="309.5" y1="429" x2="309.5" y2="441" stroke-width="0.8"/>
<line x1="312.5" y1="429" x2="312.5" y2="441" stroke-width="0.8"/>
<ellipse cx="311" cy="444" rx="1.9" ry="2.3" stroke-width="1.1" fill="#fff"/>
<path d="M306.7,448 L315.3,448 C315.7,457 314.6,465 311,472 C307.4,465 306.3,457 306.7,448" stroke-width="1.2" fill="none"/>
<line x1="306.7" y1="448" x2="315.3" y2="448" stroke-width="1.3"/>
<line x1="311" y1="472" x2="311" y2="474" stroke-width="0.9"/>
<line x1="414.8" y1="283" x2="414.8" y2="360" stroke-width="2.6" stroke="#7a7a7a"/>
<path d="M413.5,360 L412.2,369 M416.1,360 L417.4,369" stroke-width="1" fill="none"/>
<line x1="413.6" y1="360" x2="416" y2="360" stroke-width="1.5"/>
<rect x="411.4" y="369" width="6.8" height="45" stroke-width="1.3" fill="#fff" rx="1.2"/>
<line x1="411.4" y1="376.5" x2="418.2" y2="376.5" stroke-width="0.9"/>
<line x1="414.8" y1="370.5" x2="414.8" y2="376.5" stroke-width="0.8"/>
<circle cx="414.8" cy="380.25" r="1.6" fill="#222" stroke="none"/>
<line x1="411.4" y1="384" x2="418.2" y2="384" stroke-width="0.9"/>
<circle cx="414.8" cy="387.75" r="1.6" fill="#222" stroke="none"/>
<line x1="411.4" y1="391.5" x2="418.2" y2="391.5" stroke-width="0.9"/>
<circle cx="414.8" cy="395.25" r="1.6" fill="#222" stroke="none"/>
<line x1="411.4" y1="399" x2="418.2" y2="399" stroke-width="0.9"/>
<circle cx="414.8" cy="402.75" r="1.6" fill="#222" stroke="none"/>
<line x1="411.4" y1="406.5" x2="418.2" y2="406.5" stroke-width="0.9"/>
<line x1="414.8" y1="406.5" x2="414.8" y2="413" stroke-width="0.8"/>
<path d="M359.6,478 L366.4,478 L366.4,489 L367,491.5 L364.3,493.5 L361.3,493.5 L358.6,491.5 L359.2,489 Z" stroke-width="1.2" fill="none"/>
<path d="M362.3,490 L360.3,500 M363.3,490 L365.3,500" stroke-width="1" fill="none"/>
<line x1="359.8" y1="500" x2="365.8" y2="500" stroke-width="1.4"/>
<path d="M360.2,500 L362.8,509 L365.4,500" stroke-width="1.1" fill="none"/>
<line x1="362.8" y1="509" x2="362.8" y2="515" stroke-width="0.9"/>
<line x1="362.8" y1="476" x2="362.8" y2="478" stroke-width="1"/>
<line x1="333.8" y1="116.8" x2="389.2" y2="116.8" stroke-width="1.1"/>
<polygon points="333.8,116.8 339.8,115.1 339.8,118.5" stroke="none" fill="#222"/>
<polygon points="389.2,116.8 383.2,115.1 383.2,118.5" stroke="none" fill="#222"/>
<text transform="translate(367.5,116) scale(0.64,1)" font-size="12.8" text-anchor="middle" stroke="#2a2a2a" stroke-width="0.35" fill="#2a2a2a">L2</text>
<ellipse cx="388.8" cy="152.5" rx="16.2" ry="24.5" stroke-width="1.4" fill="#fff"/>
<path d="M372.6,152.5 a16.2,24.5 0 1,0 32.4,0 a16.2,24.5 0 1,0 -32.4,0" stroke-width="0.6" fill="none"/>
<ellipse cx="388.8" cy="152.5" rx="13.2" ry="20.8" stroke-width="2.2" fill="none" stroke="#333"/>
<ellipse cx="388.8" cy="152.5" rx="11.5" ry="19" stroke-width="0.9" fill="none"/>
<path d="M380,215.5 L380,145 Q380,141.6 383.4,141.6 L395.8,141.6 Q399.2,141.6 399.2,145 L399.2,215.5" stroke-width="1.3" fill="#fff"/>
<rect x="381.8" y="142" width="15.6" height="24.5" stroke-width="0.8" fill="none"/>
<ellipse cx="389.2" cy="151" rx="3.2" ry="5.2" stroke-width="1.1" fill="none"/>
<line x1="372.5" y1="151" x2="405.5" y2="151" stroke-width="1"/>
<line x1="389.2" y1="113.8" x2="389.2" y2="215.5" stroke-width="0.9"/>
<ellipse cx="389.2" cy="190" rx="5.8" ry="7.6" stroke-width="1.6" fill="#444" stroke="#222"/>
<circle cx="387.5" cy="188" r="1.2" fill="#ccc" stroke="none"/>
<circle cx="391" cy="192" r="1.1" fill="#bbb" stroke="none"/>
<circle cx="389" cy="186" r="0.8" fill="#aaa" stroke="none"/>
<line x1="380" y1="201.7" x2="399.2" y2="201.7" stroke-width="1.1"/>
<path d="M381,209.3 L384.2,207.6 L387.8,210.3 L384.2,214 L381,212.6 Z" stroke-width="1" fill="#444"/>
<path d="M390.1,209.3 L393.3,207.6 L396.9,210.3 L393.3,214 L390.1,212.6 Z" stroke-width="1" fill="#444"/>
<line x1="340" y1="201" x2="415" y2="201" stroke-width="1.2"/>
<path d="M406,222 C418,225 422,250 424,272 C426,290 428,302 424,302 C420,302 419,292 420,284" stroke-width="1.0" fill="none"/>
<path d="M406.6,223.2 C419.2,226 423.6,250 426,272 C428.2,290 429.2,302 424.8,302 C420.5,302 419.6,292 420.8,284" stroke-width="1.0" fill="none"/>
<path d="M407.2,224.4 C420.4,227 425.2,250 428,272 C430.4,290 430.4,302 425.6,302 C421,302 420.2,292 421.6,284" stroke-width="1.0" fill="none"/>
<path d="M407.8,225.6 C421.6,228 426.8,250 430,272 C432.6,290 431.6,302 426.4,302 C421.5,302 420.8,292 422.4,284" stroke-width="1.0" fill="none"/>
<line x1="480.3" y1="112" x2="563.4" y2="112" stroke-width="1.1"/>
<polygon points="480.3,112 486.3,110.3 486.3,113.7" stroke="none" fill="#222"/>
<polygon points="563.4,112 557.4,110.3 557.4,113.7" stroke="none" fill="#222"/>
<text transform="translate(517,111.2) scale(0.64,1)" font-size="12.8" text-anchor="middle" stroke="#2a2a2a" stroke-width="0.35" fill="#2a2a2a">550</text>
<line x1="510.8" y1="125.6" x2="563.4" y2="125.6" stroke-width="1.1"/>
<polygon points="510.8,125.6 516.8,123.9 516.8,127.3" stroke="none" fill="#222"/>
<polygon points="563.4,125.6 557.4,123.9 557.4,127.3" stroke="none" fill="#222"/>
<text transform="translate(537.3,124.8) scale(0.64,1)" font-size="12.8" text-anchor="middle" stroke="#2a2a2a" stroke-width="0.35" fill="#2a2a2a">380</text>
<line x1="480.3" y1="108" x2="480.3" y2="220" stroke-width="1"/>
<line x1="510.8" y1="121.5" x2="510.8" y2="212" stroke-width="1"/>
<line x1="563.4" y1="108" x2="563.4" y2="162" stroke-width="1"/>
<path d="M490.4,205.5 L490.4,140 Q491.7,138 493.1,140 L493.1,205.5" stroke-width="1.2" fill="none"/>
<rect x="496.4" y="134.5" width="2.7" height="48" stroke-width="1.2" fill="none"/>
<line x1="497.8" y1="135" x2="497.8" y2="182" stroke-width="1.3" stroke="#222"/>
<path d="M499.1,138.5 L505.6,138.5 L505.6,178" stroke-width="1.2" fill="none"/>
<path d="M514.8,178 L514.8,138.5 L522.4,138.5" stroke-width="1.2" fill="none"/>
<path d="M499.1,180.5 L510.6,176.2 L523.5,180.5" stroke-width="1.2" fill="none"/>
<line x1="509.3" y1="140" x2="509.3" y2="180" stroke-width="1.0"/>
<line x1="512" y1="140" x2="512" y2="180" stroke-width="0.8"/>
<path d="M493.1,151 L496.4,151 M493.1,164 L496.4,164" stroke-width="0.9" fill="none"/>
<rect x="523.5" y="132.6" width="3.2" height="52" stroke-width="1.3" fill="#fff"/>
<line x1="525.1" y1="134" x2="525.1" y2="183" stroke-width="1.6" stroke="#222"/>
<line x1="525.1" y1="134" x2="525.1" y2="183" stroke="#fff" stroke-width="1" stroke-dasharray="1.2 2.6"/>
<path d="M532,205.5 L532,140 Q533.7,138 535.4,140 L535.4,205.5" stroke-width="1.2" fill="none"/>
<rect x="526.7" y="140.7" width="5.3" height="4.3" stroke-width="1" fill="none"/>
<line x1="488" y1="159.8" x2="537" y2="159.8" stroke-width="1.1"/>
<line x1="457" y1="183.2" x2="537" y2="183.2" stroke-width="1.1"/>
<line x1="488" y1="190" x2="537" y2="190" stroke-width="1"/>
<line x1="488" y1="197.3" x2="537" y2="197.3" stroke-width="1"/>
<line x1="473.7" y1="204.2" x2="537" y2="204.2" stroke-width="1.1"/>
<line x1="473.7" y1="184" x2="473.7" y2="204.2" stroke-width="1.1"/>
<line x1="492.3" y1="183" x2="492.3" y2="205" stroke-width="1"/>
<line x1="498.5" y1="183" x2="498.5" y2="205" stroke-width="1"/>
<line x1="525.7" y1="183" x2="525.7" y2="205" stroke-width="1"/>
<line x1="533" y1="183" x2="533" y2="205" stroke-width="1"/>
<rect x="485.5" y="192" width="4" height="11" stroke-width="1.6" fill="#555" rx="2"/>
<rect x="534.5" y="192" width="4" height="11" stroke-width="1.6" fill="#555" rx="2"/>
<ellipse cx="515" cy="203" rx="2.5" ry="3" stroke-width="1.3" fill="none"/>
<rect x="540" y="153.4" width="14.5" height="41.4" stroke-width="1.3" fill="#fff"/>
<line x1="540" y1="155" x2="554.5" y2="155" stroke-width="2.2"/>
<rect x="541.2" y="157.5" width="12.2" height="8.5" stroke-width="0.9" fill="none"/>
<rect x="548.5" y="158.5" width="4" height="7" stroke-width="1" fill="#444"/>
<line x1="540.5" y1="167.5" x2="554" y2="167.5" stroke-width="2.1" stroke="#222"/>
<line x1="540.5" y1="171.7" x2="554" y2="171.7" stroke-width="2.1" stroke="#222"/>
<line x1="540.5" y1="175.9" x2="554" y2="175.9" stroke-width="2.1" stroke="#222"/>
<line x1="540.5" y1="180.1" x2="554" y2="180.1" stroke-width="2.1" stroke="#222"/>
<line x1="540.5" y1="184.3" x2="554" y2="184.3" stroke-width="2.1" stroke="#222"/>
<line x1="540.5" y1="188.5" x2="554" y2="188.5" stroke-width="2.1" stroke="#222"/>
<line x1="540.5" y1="192.3" x2="554" y2="192.3" stroke-width="2.1" stroke="#222"/>
<path d="M554.5,161 L560,161 Q563.6,161 563.6,165 L563.6,191 Q563.6,196 558.5,196 L554.5,196" stroke-width="1.2" fill="none"/>
<path d="M548,197 L541,212 M550,198 L543,213" stroke-width="0.9" fill="none"/>
<line x1="457.3" y1="183.2" x2="457.3" y2="456.7" stroke-width="1"/>
<polygon points="457.3,183.2 455.6,189.2 459,189.2" stroke="none" fill="#222"/>
<polygon points="457.3,456.7 455.6,450.7 459,450.7" stroke="none" fill="#222"/>
<text transform="translate(473.5,188.5) rotate(-90) scale(1.25,1)" font-size="9" text-anchor="middle" stroke="#2a2a2a" stroke-width="0.35" fill="#2a2a2a">130</text>
<text transform="translate(456.8,330.2) rotate(-90) scale(1.36,1)" font-size="7.5" text-anchor="middle" stroke="#2a2a2a" stroke-width="0.35" fill="#2a2a2a">H1</text>
<path d="M483.5,216 L498.5,205 L527,205 C535,205 542,209 546.3,218 L546.3,294.5 L531.5,308.2 L497,308.2 L483.5,295.3 Z" stroke-width="1.3" fill="#fff"/>
<rect x="480.6" y="216" width="3" height="74" stroke-width="1" fill="none"/>
<path d="M515,202.5 C528,203 537,207 543,213.5" stroke-width="1.1" fill="none"/>
<line x1="500" y1="212" x2="541" y2="212" stroke-width="1.3"/>
<line x1="503" y1="209.5" x2="538" y2="209.5" stroke-width="0.8"/>
<ellipse cx="515.2" cy="258.4" rx="28.9" ry="42.6" stroke-width="1.7" fill="none" stroke="#222"/>
<ellipse cx="515.2" cy="258.4" rx="25.6" ry="39.2" stroke-width="1.0" fill="none"/>
<path d="M488.1,258.4 a27.1,40.9 0 1,0 54.2,0 a27.1,40.9 0 1,0 -54.2,0" stroke-width="1.6" fill="none" stroke="#555" stroke-dasharray="2.2 2.4"/>
<ellipse cx="515.2" cy="258.4" rx="21" ry="33.5" stroke-width="0.7" fill="none" stroke="#777"/>
<ellipse cx="515.2" cy="258" rx="15.3" ry="23.8" stroke-width="1.2" fill="none"/>
<line x1="489" y1="258.4" x2="541.5" y2="258.4" stroke-width="1.1"/>
<line x1="515.2" y1="220" x2="515.2" y2="278" stroke-width="1.1"/>
<line x1="500" y1="236.7" x2="530" y2="280" stroke-width="0.8"/>
<line x1="530" y1="236.7" x2="500" y2="280" stroke-width="0.8"/>
<circle cx="496.7" cy="231.7" r="2.7" fill="#222" stroke="none"/>
<circle cx="533.3" cy="231.7" r="2.7" fill="#222" stroke="none"/>
<circle cx="496.7" cy="283.3" r="2.7" fill="#222" stroke="none"/>
<circle cx="533.3" cy="285" r="2.7" fill="#222" stroke="none"/>
<circle cx="515" cy="220" r="2.7" fill="#222" stroke="none"/>
<path d="M536,214 L548,214 C553,214 554,222 549,224 L540,224" stroke-width="1.2" fill="none"/>
<ellipse cx="545" cy="222" rx="2.5" ry="3.5" stroke-width="1.5" fill="none"/>
<line x1="484.3" y1="299" x2="489.5" y2="362.7" stroke-width="1.2"/>
<line x1="486.2" y1="299" x2="491.5" y2="362.7" stroke-width="0.8"/>
<line x1="534.5" y1="306.5" x2="531.5" y2="362.7" stroke-width="1.2"/>
<line x1="532.6" y1="306.5" x2="529.6" y2="362.7" stroke-width="0.8"/>
<path d="M492.5,362.7 C494,338 527,338 529,362.7" stroke-width="1.3" fill="none"/>
<path d="M495,362.7 C497,344 524,344 526,362.7" stroke-width="0.9" fill="none"/>
<ellipse cx="510.2" cy="354.7" rx="3.8" ry="4.8" stroke-width="1.2" fill="none"/>
<circle cx="497" cy="361.5" r="1.4" fill="#222" stroke="none"/>
<circle cx="523" cy="361.5" r="1.4" fill="#222" stroke="none"/>
<path d="M488,362.7 L533.3,362.7 L533.3,386.7 L518.8,425.3 L505.3,425.3 L488,386.7 Z" stroke-width="1.3" fill="#fff"/>
<ellipse cx="510.2" cy="376" rx="3.6" ry="5.6" stroke-width="1.3" fill="none"/>
<ellipse cx="510.2" cy="376" rx="1.6" ry="2.8" stroke-width="0.9" fill="none"/>
<ellipse cx="510.2" cy="414.7" rx="3.2" ry="4.8" stroke-width="1.5" fill="none"/>
<path d="M505,427 L505.3,431.5 L513.4,431.5 L513.4,427" stroke-width="1.2" fill="none"/>
<path d="M513.4,431.5 C521,435 525.5,446 524.5,455 C523.5,465 517,471 510.5,470.5 C503.5,470 499.5,463 499,455 C498.5,450 497.5,447 497.6,444.5 C497.8,441.5 501,441 502.3,443 L504.2,446.6 C505,452 506.3,456.6 509.5,456.8 C512.5,457 514.2,452 514,447.5 C513.8,443 509.5,439 507.6,437 L507.3,431.5" stroke-width="1.3" fill="#fff"/>
<line x1="505.2" y1="431.5" x2="504" y2="446.5" stroke-width="1.1"/>
<line x1="457.3" y1="456.7" x2="513" y2="456.7" stroke-width="1.1"/>
</svg>
</body></html>
